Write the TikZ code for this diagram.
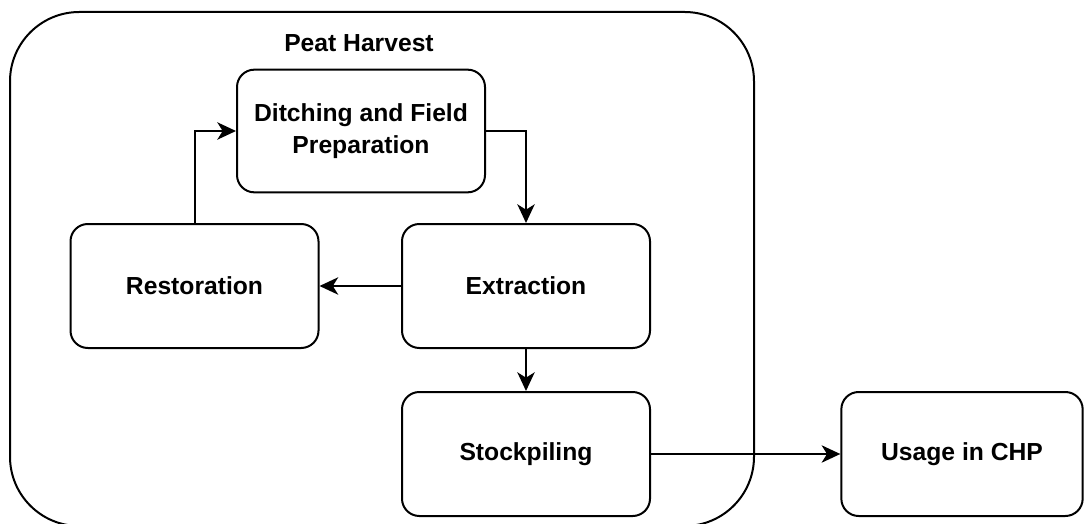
\documentclass[tikz,border=0pt]{standalone}
\usepackage{fontspec}
\setmainfont{Liberation Sans}
\usetikzlibrary{arrows.meta}
\begin{document}
\begin{tikzpicture}[x=0.75pt,y=-0.75pt,
  stage/.style={draw,line width=1.5pt,rounded corners=13pt,align=center,
    font=\fontsize{18.5}{24}\selectfont\bfseries,inner sep=0pt},
  flow/.style={line width=1.5pt,-{Stealth[length=14pt,width=13pt,inset=4pt]}},
  group/.style={draw,line width=1.5pt,rounded corners=52pt}]
\useasboundingbox (0,0) rectangle (1084,524);
% outer container
\draw[group] (10,12) rectangle (754,526);
\node[font=\fontsize{18.5}{24}\selectfont\bfseries] (title) at (359,43) {Peat Harvest};
% process stages
\node[stage,minimum width=186pt,minimum height=92pt] (ditch) at (361,131) {Ditching and Field\\Preparation};
\node[stage,minimum width=186pt,minimum height=93pt] (rest) at (194.5,286) {Restoration};
\node[stage,minimum width=186pt,minimum height=93pt] (extr) at (526,286) {Extraction};
\node[stage,minimum width=186pt,minimum height=93pt] (stock) at (526,454) {Stockpiling};
\node[stage,minimum width=181pt,minimum height=93pt] (chp) at (962,454) {Usage in CHP};
% connectors
\draw[flow] (ditch.east) -| (extr.north);
\draw[flow] (extr.west) -- (rest.east);
\draw[flow] (rest.north) |- (ditch.west);
\draw[flow] (extr.south) -- (stock.north);
\draw[flow] (stock.east) -- (chp.west);
\end{tikzpicture}
\end{document}
